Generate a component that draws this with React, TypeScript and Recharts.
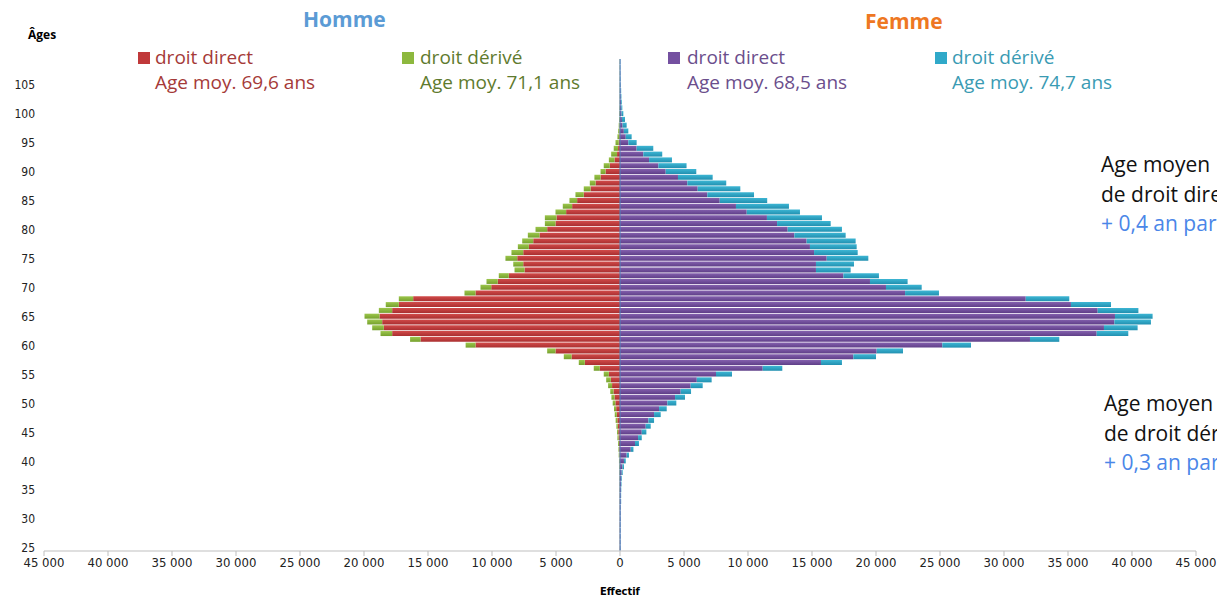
import { BarChart, Bar, XAxis, YAxis, ReferenceLine } from 'recharts';

// ages 25..109
const ages = Array.from({ length: 85 }, (_, i) => 25 + i);

const hommeDirect = [
  20, 20, 20, 20, 20, 20, 20, 20, 20, 20, 20, 20, 20, 20, 20,
  30, 40, 60, 80, 110, 140, 170, 210, 250, 300, 360, 430, 510, 620, 720,
  870, 1580, 2750, 3790, 5040, 11290, 15590, 17800, 18450, 18580, 18790, 17800, 17280, 16160, 11290,
  10060, 9550, 8690, 7460, 7560, 8030, 7560, 7120, 6780, 6290, 5690, 5040, 4960, 4210, 3740,
  3350, 2830, 2300, 1910, 1520, 1130, 800, 430, 230, 150, 100, 60, 40, 30, 20,
  20, 15, 15, 10, 10, 10, 10, 10, 10, 10,
];

const hommeDerive = [
  10, 10, 10, 10, 10, 10, 10, 10, 15, 15, 20, 20, 25, 30, 40,
  50, 60, 60, 70, 90, 90, 110, 130, 160, 170, 210, 240, 250, 310, 360,
  400, 470, 470, 600, 650, 770, 810, 910, 910, 1170, 1170, 1040, 1020, 1120, 860,
  840, 880, 780, 780, 780, 920, 920, 860, 860, 910, 910, 830, 910, 830, 730,
  600, 650, 530, 450, 480, 390, 470, 440, 460, 340, 250, 140, 100, 70, 50,
  40, 30, 20, 20, 20, 20, 20, 20, 20, 20,
];

const femmeDirect = [
  40, 40, 40, 40, 40, 50, 50, 50, 60, 60, 70, 80, 100, 130, 190,
  310, 520, 840, 1170, 1410, 1700, 2010, 2220, 2660, 3050, 3700, 4300, 4740, 5520, 6000,
  7500, 11150, 15700, 18230, 20050, 25180, 32030, 37240, 37810, 38620, 38670, 37320, 35230, 31700, 22270,
  20780, 19530, 17450, 15310, 15310, 16150, 15160, 14840, 14580, 13620, 13100, 12270, 11480, 9900, 9060,
  7790, 6820, 6070, 5260, 4530, 3570, 3000, 2270, 1820, 1300, 650, 450, 300, 200, 150,
  120, 100, 80, 60, 50, 40, 30, 30, 20, 20,
];

const femmeDerive = [
  20, 20, 20, 20, 20, 20, 20, 20, 30, 30, 30, 40, 50, 80, 120,
  140, 180, 210, 310, 290, 360, 390, 440, 520, 600, 700, 780, 810, 940, 1160,
  1250, 1530, 1640, 1770, 2060, 2240, 2290, 2470, 2630, 2860, 2940, 3180, 3130, 3400, 2650,
  2790, 2940, 2780, 2710, 2970, 3250, 3410, 3650, 3830, 4010, 4240, 4190, 4300, 4160, 4140,
  3710, 3650, 3330, 3040, 2710, 2390, 2200, 1790, 1480, 1300, 650, 460, 350, 320, 240,
  140, 80, 60, 50, 40, 30, 30, 20, 20, 20,
];

const xTicks = [-45000, -40000, -35000, -30000, -25000, -20000, -15000, -10000, -5000, 0, 5000, 10000, 15000, 20000, 25000, 30000, 35000, 40000, 45000];

const data = ages.map((age, i) => ({
  age,
  hDirect: -hommeDirect[i],
  hDerive: -hommeDerive[i],
  fDirect: femmeDirect[i],
  fDerive: femmeDerive[i],
}));

const fmt = (v: number) => String(Math.abs(v)).replace(/\B(?=(\d{3})+(?!\d))/g, ' ');

const txt = "'Open Sans', 'Noto Sans', sans-serif";
const narrow = "'Liberation Sans Narrow', 'DejaVu Sans Condensed', 'Liberation Sans', sans-serif";

function Label({ x, y, children, color, size = 19, bold = false, family = txt }: any) {
  return (
    <div style={{ position: 'absolute', left: x, top: y, color, fontSize: size, fontWeight: bold ? 700 : 400, fontFamily: family, whiteSpace: 'nowrap', lineHeight: 1 }}>
      {children}
    </div>
  );
}

function Swatch({ x, y, color }: any) {
  return <div style={{ position: 'absolute', left: x, top: y, width: 12, height: 12, background: color }} />;
}

export default function App() {
  return (
    <div style={{ position: 'absolute', left: 0, top: 0, width: 1217, height: 598, overflow: 'hidden', background: '#fff' }}>
      <BarChart
        width={1217}
        height={598}
        data={data}
        layout="vertical"
        stackOffset="sign"
        barSize={5}
        margin={{ top: 59, right: 21, bottom: 22, left: 0 }}
      >
        <defs>
          <linearGradient id="gRed" x1="0" y1="0" x2="0" y2="1">
            <stop offset="0%" stopColor="#D24B4A" />
            <stop offset="100%" stopColor="#A92F30" />
          </linearGradient>
          <linearGradient id="gGreen" x1="0" y1="0" x2="0" y2="1">
            <stop offset="0%" stopColor="#9CC64C" />
            <stop offset="100%" stopColor="#76A12E" />
          </linearGradient>
          <linearGradient id="gPurple" x1="0" y1="0" x2="0" y2="1">
            <stop offset="0%" stopColor="#8460AE" />
            <stop offset="100%" stopColor="#5F3F88" />
          </linearGradient>
          <linearGradient id="gCyan" x1="0" y1="0" x2="0" y2="1">
            <stop offset="0%" stopColor="#3DB6D4" />
            <stop offset="100%" stopColor="#2290B0" />
          </linearGradient>
        </defs>
        <XAxis
          type="number"
          domain={[-45000, 45000]}
          ticks={xTicks}
          tickFormatter={fmt}
          height={25}
          axisLine={{ stroke: '#BFBFBF' }}
          tickLine={{ stroke: '#BFBFBF' }}
          tickSize={5}
          tick={{ fontSize: 13, fill: '#222', fontFamily: narrow }}
          interval={0}
        />
        <YAxis
          type="category"
          dataKey="age"
          reversed
          width={44}
          interval={4}
          axisLine={false}
          tickLine={false}
          tickSize={0}
          tickMargin={9}
          tick={{ fontSize: 12, fill: '#222', fontFamily: narrow }}
        />
        <Bar dataKey="hDirect" stackId="a" fill="url(#gRed)" isAnimationActive={false} />
        <Bar dataKey="hDerive" stackId="a" fill="url(#gGreen)" isAnimationActive={false} />
        <Bar dataKey="fDirect" stackId="a" fill="url(#gPurple)" isAnimationActive={false} />
        <Bar dataKey="fDerive" stackId="a" fill="url(#gCyan)" isAnimationActive={false} />
        <ReferenceLine x={0} stroke="#4F81BD" strokeWidth={1} />
      </BarChart>

      <Label x={303} y={9} color="#5B9BD5" size={21} bold>Homme</Label>
      <Label x={865} y={11} color="#EE7722" size={21} bold>Femme</Label>
      <Label x={28} y={29} color="#000" size={12} bold>Âges</Label>

      <Swatch x={138} y={52} color="#C0393A" />
      <Label x={155} y={48} color="#A53A38">droit direct</Label>
      <Label x={155} y={73} color="#A53A38">Age moy. 69,6 ans</Label>

      <Swatch x={402} y={52} color="#8DB83E" />
      <Label x={420} y={48} color="#5F7B2E">droit dérivé</Label>
      <Label x={420} y={73} color="#5F7B2E">Age moy. 71,1 ans</Label>

      <Swatch x={668} y={52} color="#7450A0" />
      <Label x={687} y={48} color="#6B4E8C">droit direct</Label>
      <Label x={687} y={73} color="#6B4E8C">Age moy. 68,5 ans</Label>

      <Swatch x={935} y={52} color="#30A9C9" />
      <Label x={952} y={48} color="#3A9BB3">droit dérivé</Label>
      <Label x={952} y={73} color="#3A9BB3">Age moy. 74,7 ans</Label>

      <Label x={1101} y={154} color="#111" size={21}>Age moyen</Label>
      <Label x={1101} y={184} color="#111" size={21}>de droit direct</Label>
      <Label x={1101} y={213} color="#4A86E8" size={21}>+ 0,4 an par an</Label>

      <Label x={1104} y={393} color="#111" size={21}>Age moyen</Label>
      <Label x={1104} y={423} color="#111" size={21}>de droit dérivé</Label>
      <Label x={1104} y={452} color="#4A86E8" size={21}>+ 0,3 an par an</Label>

      <div style={{ position: 'absolute', left: 0, width: 1217, top: 586, textAlign: 'center', paddingLeft: 23, boxSizing: 'border-box', fontSize: 11, fontWeight: 700, fontFamily: narrow, lineHeight: 1 }}>
        <span>Effectif</span>
      </div>
    </div>
  );
}
